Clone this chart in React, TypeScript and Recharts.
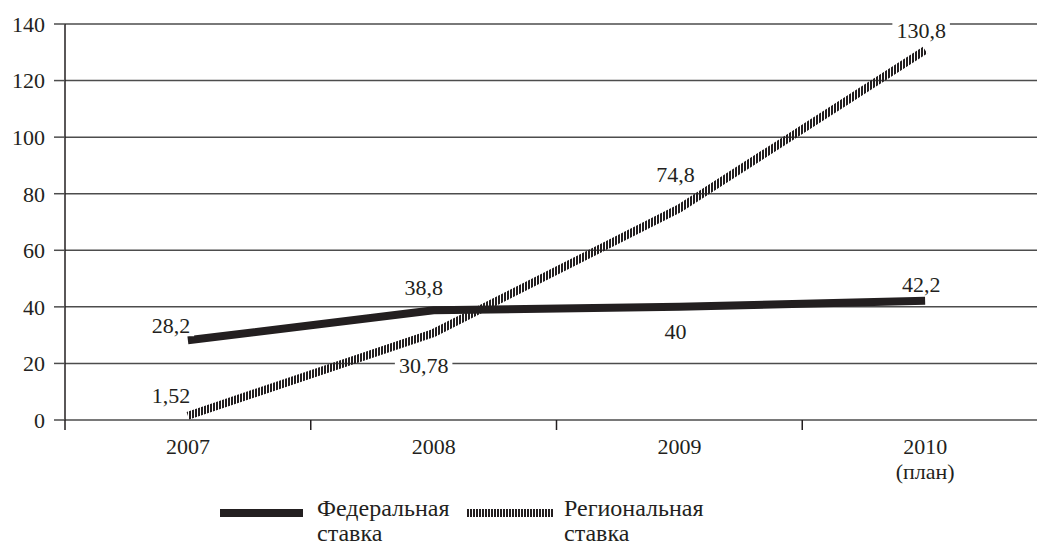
import { LineChart, Line, XAxis, YAxis, CartesianGrid, LabelList, Legend } from 'recharts'

// Federal vs regional rate, 2007–2010 (2010 is the plan figure)
const categories = ['2007', '2008', '2009', '2010 (план)']
const federalRate = [28.2, 38.8, 40, 42.2]
const regionalRate = [1.52, 30.78, 74.8, 130.8]
const yTicks = [0, 20, 40, 60, 80, 100, 120, 140]

const data = categories.map((year, i) => ({
  year,
  federal: federalRate[i],
  regional: regionalRate[i],
}))

// label placement per point: [dx from point, baseline dy from point]
const federalLabelPos = [[-17, -7], [-10, -15], [-4, 32], [-4, -9]]
const regionalLabelPos = [[-17, -13], [-10, 40], [-4, -26], [-4, -12]]

const INK = '#231f20'
const GRID = '#4d4d4d'
const FONT = 'Liberation Serif, serif'
const FS = 22

const CHART_W = 1048
const CHART_H = 550
const AXIS_W = 65
const BAND = (CHART_W - AXIS_W) / categories.length

const fmt = (v: number) => String(v).replace('.', ',')

function makeLabel(pos: number[][]) {
  return (props: any) => {
    const { x, y, value, index } = props
    const [dx, dy] = pos[index]
    const text = fmt(value)
    const w = text.split('').reduce((s, c) => s + (c === ',' ? 0.25 : 0.5), 0) * FS + 8
    const cx = x + dx
    const by = y + dy
    return (
      <g>
        <rect x={cx - w / 2} y={by - 17} width={w} height={20} fill="#fff" />
        <text x={cx} y={by} textAnchor="middle" fill={INK} style={{ fontSize: FS, fontFamily: FONT }}>
          {text}
        </text>
      </g>
    )
  }
}

function YearTick(props: any) {
  const { x, y, payload } = props
  const [first, second] = String(payload.value).split(' ')
  const bx = x - BAND / 2
  return (
    <g>
      <line x1={bx} y1={y - 10} x2={bx} y2={y} stroke={INK} strokeWidth={1.5} />
      <text x={x} y={y + 24} textAnchor="middle" fill={INK} style={{ fontSize: FS, fontFamily: FONT }}>
        <tspan x={x}>{first}</tspan>
        {second && <tspan x={x} dy={25}>{second}</tspan>}
      </text>
    </g>
  )
}

function LegendBox() {
  const txt = { position: 'absolute' as const, fontFamily: FONT, fontSize: 24, color: INK, lineHeight: '25px' }
  return (
    <div style={{ position: 'relative', width: 1037, height: 50 }}>
      <div style={{ position: 'absolute', left: 220, top: 12, width: 83, height: 8, background: INK }} />
      <div style={{ ...txt, left: 317, top: -1 }}>Федеральная<br />ставка</div>
      <svg style={{ position: 'absolute', left: 467, top: 12 }} width={86} height={8}>
        <rect x={0} y={0} width={86} height={8} fill="url(#vstripe)" />
      </svg>
      <div style={{ ...txt, left: 564, top: -1 }}>Региональная<br />ставка</div>
    </div>
  )
}

export default function App() {
  return (
    <div style={{ position: 'absolute', left: 0, top: 0, width: 1037, height: CHART_H, overflow: 'hidden', background: '#fff' }}>
      <svg width={0} height={0} style={{ position: 'absolute' }}>
        <defs>
          <pattern id="vstripe" patternUnits="userSpaceOnUse" width={3} height={20}>
            <rect x={0} y={0} width={2} height={20} fill={INK} />
          </pattern>
        </defs>
      </svg>
      <LineChart width={CHART_W} height={CHART_H} data={data} margin={{ top: 24, right: 0, bottom: 70, left: 0 }}>
        <CartesianGrid vertical={false} stroke={GRID} strokeWidth={1.5} />
        <XAxis dataKey="year" height={60} axisLine={false} tickLine={false} tickSize={10} tickMargin={0}
          padding={{ left: BAND / 2, right: BAND / 2 }} interval={0} tick={<YearTick />} />
        <YAxis width={AXIS_W} domain={[0, 140]} ticks={yTicks} interval={0} tickSize={11} tickMargin={9}
          axisLine={{ stroke: INK, strokeWidth: 1.5 }} tickLine={{ stroke: GRID, strokeWidth: 1.5 }}
          tick={{ fill: INK, fontSize: FS, style: { fontFamily: FONT } } as any} />
        <Legend verticalAlign="middle" align="center" wrapperStyle={{ top: 497, left: 0, width: 1037 }}
          content={() => <LegendBox />} />
        <Line type="linear" dataKey="federal" name="Федеральная ставка" stroke={INK} strokeWidth={8}
          strokeLinecap="butt" dot={false} activeDot={false} isAnimationActive={false}>
          <LabelList dataKey="federal" content={makeLabel(federalLabelPos)} />
        </Line>
        <Line type="linear" dataKey="regional" name="Региональная ставка" stroke="url(#vstripe)" strokeWidth={8}
          strokeLinecap="butt" dot={false} activeDot={false} isAnimationActive={false}>
          <LabelList dataKey="regional" content={makeLabel(regionalLabelPos)} />
        </Line>
      </LineChart>
    </div>
  )
}
